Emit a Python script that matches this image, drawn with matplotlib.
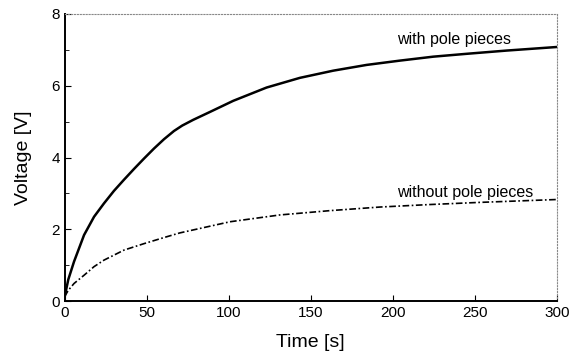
import matplotlib
matplotlib.use('Agg')
import matplotlib.pyplot as plt

# data
t_with = [0, 2.3, 5.8, 11.9, 18, 24, 30.1, 36.2, 42.3, 48.4, 54.5, 60.6,
          66.7, 71.7, 78.4, 88.6, 102.8, 123.1, 143.4, 163.7, 184, 204.3,
          224.6, 245, 269.3, 300]
v_with = [0.1, 0.6, 1.1, 1.84, 2.35, 2.72, 3.07, 3.38, 3.68, 3.97, 4.25,
          4.51, 4.74, 4.89, 5.05, 5.27, 5.58, 5.95, 6.22, 6.42, 6.58, 6.70,
          6.81, 6.89, 6.98, 7.08]

t_without = [0, 2.3, 5.8, 11.9, 18, 24, 36.2, 48.4, 60.6, 70.3, 100.8,
             131.2, 161.7, 192.1, 222.6, 253, 300]
v_without = [0.12, 0.3, 0.49, 0.72, 0.96, 1.14, 1.42, 1.6, 1.77, 1.9, 2.21,
             2.40, 2.52, 2.62, 2.69, 2.75, 2.83]

plt.rcParams['font.family'] = ['Liberation Sans', 'DejaVu Sans']

fig = plt.figure(figsize=(5.76, 3.58), dpi=100)
ax = fig.add_axes([0.112, 0.159, 0.855, 0.802])

ax.plot(t_with, v_with, color='black', lw=1.8)
ax.plot(t_without, v_without, color='black', lw=1.2, ls=(0, (4, 1.5, 1, 1.5)))

ax.text(237, 7.28, 'with pole pieces', ha='center', va='center', fontsize=11.5)
ax.text(244, 3.02, 'without pole pieces', ha='center', va='center', fontsize=11.5)

ax.set_xlim(0, 300)
ax.set_ylim(0, 8)
ax.set_xticks([0, 50, 100, 150, 200, 250, 300])
ax.set_yticks([0, 2, 4, 6, 8])
ax.set_yticks([1, 3, 5, 7], minor=True)
ax.tick_params(direction='in', labelsize=11, length=4)
ax.tick_params(which='minor', direction='in', length=3)

ax.set_xlabel('Time [s]', fontsize=14, labelpad=10)
ax.set_ylabel('Voltage [V]', fontsize=14, labelpad=14)

for s in ['top', 'right']:
    ax.spines[s].set_linestyle(':')
    ax.spines[s].set_color('#888888')
    ax.spines[s].set_linewidth(0.8)
for s in ['left', 'bottom']:
    ax.spines[s].set_linewidth(1.4)

fig.savefig('out.png', dpi=100)
